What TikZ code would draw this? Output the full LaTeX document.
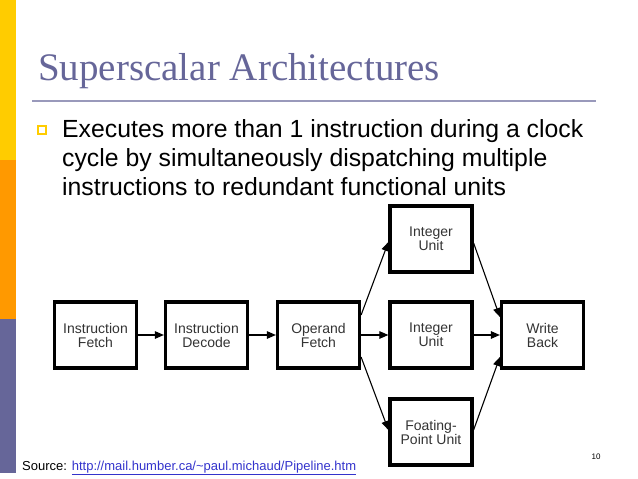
\documentclass[tikz,border=0pt]{standalone}
\usepackage{fontspec}
\setmainfont{Liberation Sans}
\newfontfamily\titlefont{Liberation Serif}
\usetikzlibrary{arrows.meta}
\definecolor{slidegold}{HTML}{FFCC00}
\definecolor{slideorange}{HTML}{FF9900}
\definecolor{slidepurple}{HTML}{666699}
\definecolor{rulegray}{HTML}{9999BB}
\definecolor{linkblue}{HTML}{3333CC}
\begin{document}
\begin{tikzpicture}[
        x=1pt, y=-1pt,
        stage/.style={
            draw,
            line width=3.2pt,
            minimum width=82pt,
            minimum height=66pt,
            align=center,
            inner sep=2pt,
            text=black!80,
            font=\fontsize{14}{14}\selectfont
        },
        arrow/.style={-{Triangle[length=9pt,width=7.5pt]}, line width=1.1pt},
        bodyline/.style={anchor=base west, inner sep=0pt, font=\fontsize{24.8}{29}\selectfont}
    ]
    \useasboundingbox (0,0) rectangle (638,479);

    % side bar and heading
    \fill[slidegold] (0,0) rectangle (16,160);
    \fill[slideorange] (0,160) rectangle (16,319);
    \fill[slidepurple] (0,319) rectangle (16,473);
    \node[anchor=base west, inner sep=0pt, text=slidepurple, font=\titlefont\fontsize{39}{39}\selectfont] (title) at (38,80) {Superscalar Architectures};
    \draw[rulegray, line width=1.5pt] (32,101) -- (596,101);

    % bullet text
    \draw[slidegold, line width=2pt] (38,126) rectangle (46,134);
    \node[bodyline] (l1) at (62,137) {Executes more than 1 instruction during a clock};
    \node[bodyline] (l2) at (62,166) {cycle by simultaneously dispatching multiple};
    \node[bodyline] (l3) at (62,195) {instructions to redundant functional units};

    % pipeline stages
    \node[stage] (ifetch) at (95.5,335) {Instruction\\Fetch};
    \node[stage] (idecode) at (206.5,335) {Instruction\\Decode};
    \node[stage] (ofetch) at (318.5,335) {Operand\\Fetch};
    \node[stage] (intA) at (431,239) {Integer\\Unit};
    \node[stage] (intB) at (431,335) {Integer\\Unit};
    \node[stage] (fpu) at (431,432) {Foating-\\Point Unit};
    \node[stage] (wback) at (542.5,335) {Write\\Back};

    \draw[arrow] (ifetch) -- (idecode);
    \draw[arrow] (idecode) -- (ofetch);
    \draw[arrow] ([yshift=20pt]ofetch.east) -- ([yshift=-3pt]intA.west);
    \draw[arrow] (ofetch) -- (intB);
    \draw[arrow] ([yshift=-22pt]ofetch.east) -- ([yshift=2pt]fpu.west);
    \draw[arrow] ([yshift=-4pt]intA.east) -- ([yshift=18pt]wback.west);
    \draw[arrow] (intB) -- (wback);
    \draw[arrow] ([yshift=2pt]fpu.east) -- ([yshift=-22pt]wback.west);

    % footer
    \node[anchor=base west, inner sep=0pt, font=\fontsize{13}{13}\selectfont] (src) at (22,470)
        {Source: \textcolor{linkblue}{\underline{http://mail.humber.ca/\textasciitilde paul.michaud/Pipeline.htm}}};
    \node[anchor=base, inner sep=0pt, font=\fontsize{8}{8}\selectfont] (pgnum) at (596,459) {10};
\end{tikzpicture}
\end{document}
